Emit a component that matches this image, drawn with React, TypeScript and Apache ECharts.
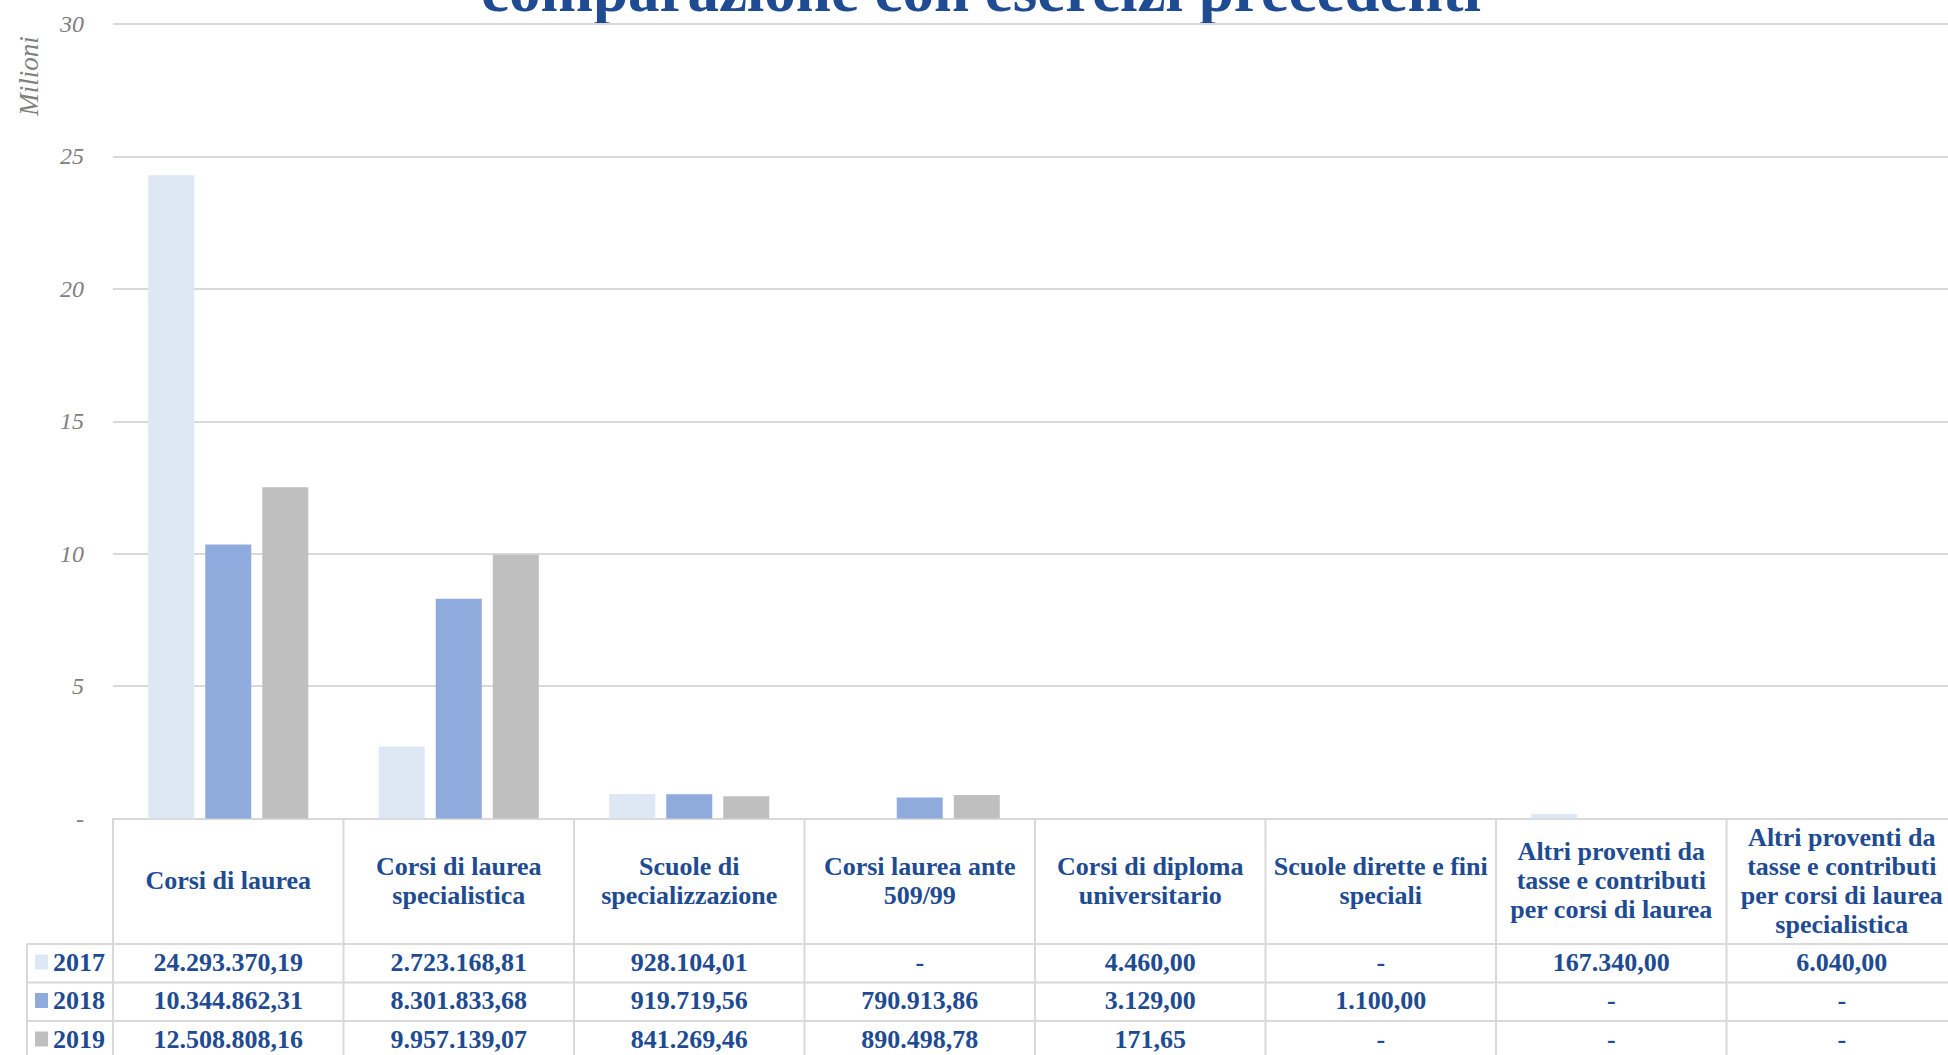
import React, { useEffect, useRef } from 'react';
import * as echarts from 'echarts';

const titleText = 'comparazione con esercizi precedenti';
const axisUnit = 'Milioni';
const categories = [
  'Corsi di laurea',
  'Corsi di laurea\nspecialistica',
  'Scuole di\nspecializzazione',
  'Corsi laurea ante\n509/99',
  'Corsi di diploma\nuniversitario',
  'Scuole dirette e fini\nspeciali',
  'Altri proventi da\ntasse e contributi\nper corsi di laurea',
  'Altri proventi da\ntasse e contributi\nper corsi di laurea\nspecialistica',
];
const years = ['2017', '2018', '2019'];
const values2017 = [24293370.19, 2723168.81, 928104.01, 0, 4460.0, 0, 167340.0, 6040.0];
const values2018 = [10344862.31, 8301833.68, 919719.56, 790913.86, 3129.0, 1100.0, 0, 0];
const values2019 = [12508808.16, 9957139.07, 841269.46, 890498.78, 171.65, 0, 0, 0];
const seriesValues = [values2017, values2018, values2019];
const colors = ['#dde8f4', '#8faadc', '#bfbfbf'];

const NAVY = '#1e4b91';
const GRID_COLOR = '#d9d9d9';
const FONT = "'Liberation Serif', 'Times New Roman', serif";

const W = 1948;
const H = 1055;
const CW = 1966; // chart canvas is wider than the window: the last column is cut off
const PLOT_LEFT = 113;
const PLOT_TOP = 24;
const PLOT_BOTTOM_Y = 818.5;
const COL_W = 230.5;
const HEADER_BOTTOM = 944;
const ROW_H = 38.5;
const LEGEND_LEFT = 27;

function fmt(v: number): string {
  if (!v) return '-';
  const [i, d] = v.toFixed(2).split('.');
  return i.replace(/\B(?=(\d{3})+(?!\d))/g, '.') + ',' + d;
}

export default function App() {
  const ref = useRef<HTMLDivElement>(null);
  useEffect(() => {
    if (!ref.current) return;
    const chart = echarts.init(ref.current, undefined, { renderer: 'svg' });
    const nCat = categories.length;
    const graphics: any[] = [];
    const lineStyle = { stroke: GRID_COLOR, lineWidth: 2 };
    for (let i = 0; i <= nCat; i++) {
      const x = PLOT_LEFT + i * COL_W;
      graphics.push({ type: 'line', shape: { x1: x, y1: PLOT_BOTTOM_Y, x2: x, y2: H + 10 }, style: lineStyle, silent: true });
    }
    graphics.push({ type: 'line', shape: { x1: LEGEND_LEFT, y1: HEADER_BOTTOM, x2: LEGEND_LEFT, y2: H + 10 }, style: lineStyle, silent: true });
    for (let r = 0; r <= years.length; r++) {
      const y = HEADER_BOTTOM + r * ROW_H;
      graphics.push({ type: 'line', shape: { x1: LEGEND_LEFT, y1: y, x2: CW + 20, y2: y }, style: lineStyle, silent: true });
    }
    seriesValues.forEach((vals, r) => {
      vals.forEach((v, c) => {
        graphics.push({
          type: 'text',
          x: PLOT_LEFT + (c + 0.5) * COL_W,
          y: HEADER_BOTTOM + (r + 0.5) * ROW_H - 1,
          style: { text: fmt(v), fill: NAVY, font: `bold 26px ${FONT}`, align: 'center', verticalAlign: 'middle' },
          silent: true,
        });
      });
    });
    graphics.push({
      type: 'text', x: 29, y: 76, rotation: Math.PI / 2,
      style: { text: axisUnit, fill: '#808080', font: `italic 27px ${FONT}`, align: 'center', verticalAlign: 'middle' },
      silent: true,
    });
    graphics.push({
      type: 'text', x: 981, y: -9.8,
      style: { text: titleText, fill: NAVY, font: `bold 63px ${FONT}`, align: 'center', verticalAlign: 'middle' },
      silent: true,
    });

    chart.setOption({
      animation: false,
      backgroundColor: '#ffffff',
      grid: { left: PLOT_LEFT, right: CW - (PLOT_LEFT + nCat * COL_W), top: PLOT_TOP, bottom: H - PLOT_BOTTOM_Y, containLabel: false },
      legend: {
        data: years,
        orient: 'vertical',
        left: 35,
        top: 949,
        padding: 0,
        itemWidth: 13,
        itemHeight: 15,
        itemGap: 12.5,
        icon: 'rect',
        textStyle: { fontFamily: FONT, fontSize: 26, fontWeight: 'bold', color: NAVY },
      },
      xAxis: {
        type: 'category',
        data: categories,
        axisLine: { show: true, lineStyle: { color: GRID_COLOR, width: 2 } },
        axisTick: { show: false },
        axisLabel: {
          interval: 0,
          margin: 62,
          verticalAlign: 'middle',
          align: 'center',
          lineHeight: 29,
          fontSize: 26,
          fontWeight: 'bold',
          fontFamily: FONT,
          color: NAVY,
        },
      },
      yAxis: {
        type: 'value',
        min: 0,
        max: 30000000,
        interval: 5000000,
        axisLine: { show: false },
        axisTick: { show: false },
        splitLine: { lineStyle: { color: GRID_COLOR, width: 2 } },
        axisLabel: {
          margin: 29,
          fontSize: 24,
          fontStyle: 'italic',
          fontFamily: FONT,
          color: '#808080',
          formatter: (v: number) => (v === 0 ? '-' : String(v / 1000000)),
        },
      },
      series: years.map((y, i) => ({
        name: y,
        type: 'bar',
        data: seriesValues[i],
        barWidth: 46,
        barGap: '24%',
        itemStyle: { color: colors[i] },
      })),
      graphic: graphics,
    });
    return () => chart.dispose();
  }, []);
  return (
    <div style={{ position: 'fixed', left: 0, top: 0, width: W, height: H, overflow: 'hidden', background: '#fff' }}>
      <div ref={ref} style={{ width: CW, height: H }} />
    </div>
  );
}
